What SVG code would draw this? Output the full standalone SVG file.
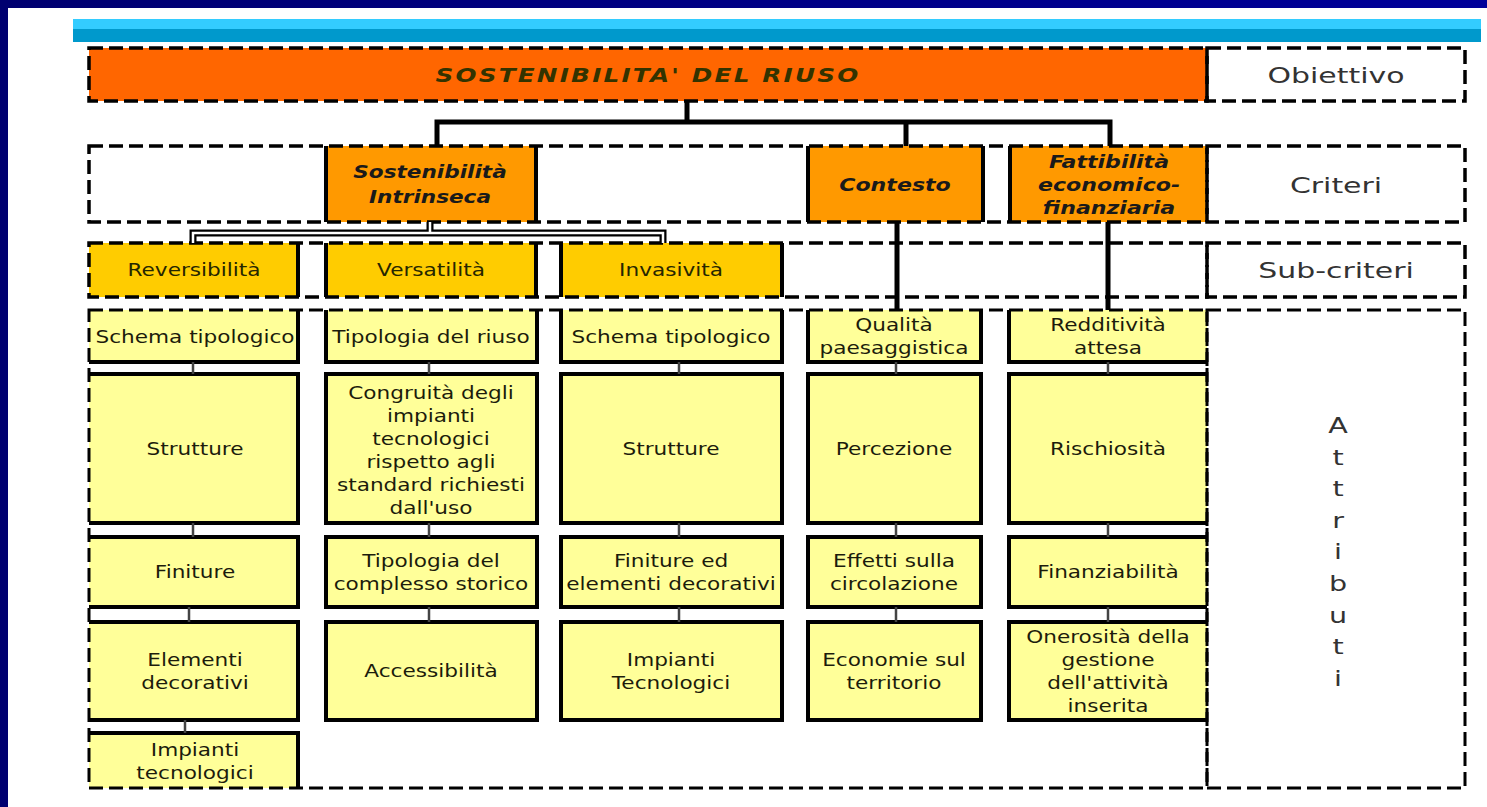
<svg xmlns="http://www.w3.org/2000/svg" width="1487" height="807" viewBox="0 0 1487 807">
<style>
  .band{fill:none;stroke:#000;stroke-width:3.5;stroke-dasharray:14 6}
  .bandt{fill:none;stroke:#000;stroke-width:3;stroke-dasharray:14 6}
  .solid{fill:none;stroke:#000;stroke-width:4}
  .att{fill:#FFFF99}
  .sub{fill:#FFCC00}
  .crit{fill:#FF9900}
  .thick{fill:none;stroke:#000;stroke-width:5}
  .thin{fill:none;stroke:#444;stroke-width:2.5}
  text{font-family:"DejaVu Sans","Verdana",sans-serif;text-anchor:middle}
  .ta{font-size:18px;fill:#1c1c0c}
  .ts{font-size:18px;fill:#262600}
  .tc{font-size:17px;font-weight:bold;font-style:italic;fill:#1a1a1a}
  .to{font-size:19px;font-weight:bold;font-style:italic;fill:#333300;letter-spacing:1.7px}
  .tl{font-size:22px;fill:#333333}
</style>
<defs>
  <linearGradient id="navy" x1="0" y1="0" x2="1" y2="0">
    <stop offset="0" stop-color="#000070"/>
    <stop offset="1" stop-color="#000099"/>
  </linearGradient>
</defs>
<rect x="0" y="0" width="1487" height="807" fill="#FFFFFF"/>
<rect x="0" y="0" width="1487" height="8" fill="url(#navy)"/>
<rect x="0" y="0" width="8" height="807" fill="#000070"/>
<rect x="73" y="19" width="1408" height="10" fill="#33CCFF"/>
<rect x="73" y="29" width="1408" height="13" fill="#0099CC"/>

<!-- Objective -->
<g id="n-obj">
  <rect x="89" y="48" width="1118" height="53" fill="#FF6600"/>
  <rect x="89" y="48" width="1118" height="53" class="band" stroke-width="4"/>
  <text class="to" transform="translate(648 0) scale(1.3 1)" y="82">SOSTENIBILITA' DEL RIUSO</text>
</g>
<g id="l-obiettivo">
  <rect x="1207" y="48" width="258" height="53" class="band"/>
  <text class="tl" transform="translate(1336 0) scale(1.36 1)" y="83">Obiettivo</text>
</g>

<!-- Criteria band -->
<g id="n-sost">
  <rect x="326" y="146" width="210" height="76" class="crit"/>
  <path class="solid" d="M326 146V222M536 146V222"/>
  <text class="tc" transform="translate(430 0) scale(1.27 1)" y="178"><tspan x="0">Sostenibilità</tspan><tspan x="0" dy="25">Intrinseca</tspan></text>
</g>
<g id="n-cont">
  <rect x="808" y="146" width="175" height="76" class="crit"/>
  <path class="solid" d="M808 146V222M983 146V222"/>
  <text class="tc" transform="translate(895 0) scale(1.3 1)" y="191">Contesto</text>
</g>
<g id="n-fatt">
  <rect x="1010" y="146" width="197" height="76" class="crit"/>
  <path class="solid" d="M1010 146V222"/>
  <text class="tc" transform="translate(1109 0) scale(1.3 1)" y="168"><tspan x="0">Fattibilità</tspan><tspan x="0" dy="23">economico-</tspan><tspan x="0" dy="23">finanziaria</tspan></text>
</g>
<rect id="band-criteri" x="89" y="146" width="1118" height="76" class="band"/>
<g id="l-criteri">
  <rect x="1207" y="146" width="258" height="76" class="band"/>
  <text class="tl" transform="translate(1336 0) scale(1.36 1)" y="193">Criteri</text>
</g>

<!-- Sub-criteria band -->
<g id="n-rev">
  <rect x="89" y="243" width="209" height="54" class="sub"/>
  <path class="solid" d="M298 243V297"/>
  <text class="ts" transform="translate(194 0) scale(1.2 1)" y="276">Reversibilità</text>
</g>
<g id="n-vers">
  <rect x="326" y="243" width="210" height="54" class="sub"/>
  <path class="solid" d="M326 243V297M536 243V297"/>
  <text class="ts" transform="translate(431 0) scale(1.2 1)" y="276">Versatilità</text>
</g>
<g id="n-inv">
  <rect x="561" y="243" width="221" height="54" class="sub"/>
  <path class="solid" d="M561 243V297M782 243V297"/>
  <text class="ts" transform="translate(671 0) scale(1.2 1)" y="276">Invasività</text>
</g>
<rect id="band-sub" x="89" y="243" width="1118" height="54" class="band"/>
<g id="l-sub">
  <rect x="1207" y="243" width="258" height="54" class="band"/>
  <text class="tl" transform="translate(1336 0) scale(1.36 1)" y="278">Sub-criteri</text>
</g>

<!-- Attributes column 1 -->
<g id="a1-1">
  <rect x="89" y="310" width="209" height="52" class="att"/>
  <path class="solid" d="M89 362H298V310"/>
  <text class="ta" transform="translate(195 0) scale(1.2 1)" y="343">Schema tipologico</text>
</g>
<g id="a1-2">
  <rect x="89" y="374" width="209" height="149" class="att"/>
  <path class="solid" d="M89 374H298V523H89"/>
  <text class="ta" transform="translate(195 0) scale(1.2 1)" y="455">Strutture</text>
</g>
<g id="a1-3">
  <rect x="89" y="537" width="209" height="70" class="att"/>
  <path class="solid" d="M89 537H298V607H89"/>
  <text class="ta" transform="translate(195 0) scale(1.2 1)" y="578">Finiture</text>
</g>
<g id="a1-4">
  <rect x="89" y="622" width="209" height="98" class="att"/>
  <path class="solid" d="M89 622H298V720H89"/>
  <text class="ta" transform="translate(195 0) scale(1.2 1)" y="666"><tspan x="0">Elementi</tspan><tspan x="0" dy="23">decorativi</tspan></text>
</g>
<g id="a1-5">
  <rect x="89" y="733" width="209" height="55" class="att"/>
  <path class="solid" d="M89 733H298V788"/>
  <text class="ta" transform="translate(195 0) scale(1.2 1)" y="756"><tspan x="0">Impianti</tspan><tspan x="0" dy="23">tecnologici</tspan></text>
</g>

<!-- Attributes column 2 -->
<g id="a2-1">
  <rect x="326" y="310" width="211" height="52" class="att"/>
  <path class="solid" d="M326 310V362H537V310"/>
  <text class="ta" transform="translate(431 0) scale(1.2 1)" y="343">Tipologia del riuso</text>
</g>
<g id="a2-2">
  <rect x="326" y="374" width="211" height="149" class="att solid" style="fill:#FFFF99"/>
  <text class="ta" transform="translate(431 0) scale(1.2 1)" y="399"><tspan x="0">Congruità degli</tspan><tspan x="0" dy="23">impianti</tspan><tspan x="0" dy="23">tecnologici</tspan><tspan x="0" dy="23">rispetto agli</tspan><tspan x="0" dy="23">standard richiesti</tspan><tspan x="0" dy="23">dall'uso</tspan></text>
</g>
<g id="a2-3">
  <rect x="326" y="537" width="211" height="70" class="att solid" style="fill:#FFFF99"/>
  <text class="ta" transform="translate(431 0) scale(1.2 1)" y="567"><tspan x="0">Tipologia del</tspan><tspan x="0" dy="23">complesso storico</tspan></text>
</g>
<g id="a2-4">
  <rect x="326" y="622" width="211" height="98" class="att solid" style="fill:#FFFF99"/>
  <text class="ta" transform="translate(431 0) scale(1.2 1)" y="677">Accessibilità</text>
</g>

<!-- Attributes column 3 -->
<g id="a3-1">
  <rect x="561" y="310" width="221" height="52" class="att"/>
  <path class="solid" d="M561 310V362H782V310"/>
  <text class="ta" transform="translate(671 0) scale(1.2 1)" y="343">Schema tipologico</text>
</g>
<g id="a3-2">
  <rect x="561" y="374" width="221" height="149" class="att solid" style="fill:#FFFF99"/>
  <text class="ta" transform="translate(671 0) scale(1.2 1)" y="455">Strutture</text>
</g>
<g id="a3-3">
  <rect x="561" y="537" width="221" height="70" class="att solid" style="fill:#FFFF99"/>
  <text class="ta" transform="translate(671 0) scale(1.2 1)" y="567"><tspan x="0">Finiture ed</tspan><tspan x="0" dy="23">elementi decorativi</tspan></text>
</g>
<g id="a3-4">
  <rect x="561" y="622" width="221" height="98" class="att solid" style="fill:#FFFF99"/>
  <text class="ta" transform="translate(671 0) scale(1.2 1)" y="666"><tspan x="0">Impianti</tspan><tspan x="0" dy="23">Tecnologici</tspan></text>
</g>

<!-- Attributes column 4 -->
<g id="a4-1">
  <rect x="808" y="310" width="173" height="52" class="att"/>
  <path class="solid" d="M808 310V362H981V310"/>
  <text class="ta" transform="translate(894 0) scale(1.2 1)" y="331"><tspan x="0">Qualità</tspan><tspan x="0" dy="23">paesaggistica</tspan></text>
</g>
<g id="a4-2">
  <rect x="808" y="374" width="173" height="149" class="att solid" style="fill:#FFFF99"/>
  <text class="ta" transform="translate(894 0) scale(1.2 1)" y="455">Percezione</text>
</g>
<g id="a4-3">
  <rect x="808" y="537" width="173" height="70" class="att solid" style="fill:#FFFF99"/>
  <text class="ta" transform="translate(894 0) scale(1.2 1)" y="567"><tspan x="0">Effetti sulla</tspan><tspan x="0" dy="23">circolazione</tspan></text>
</g>
<g id="a4-4">
  <rect x="808" y="622" width="173" height="98" class="att solid" style="fill:#FFFF99"/>
  <text class="ta" transform="translate(894 0) scale(1.2 1)" y="666"><tspan x="0">Economie sul</tspan><tspan x="0" dy="23">territorio</tspan></text>
</g>

<!-- Attributes column 5 -->
<g id="a5-1">
  <rect x="1009" y="310" width="198" height="52" class="att"/>
  <path class="solid" d="M1009 310V362H1207"/>
  <text class="ta" transform="translate(1108 0) scale(1.2 1)" y="331"><tspan x="0">Redditività</tspan><tspan x="0" dy="23">attesa</tspan></text>
</g>
<g id="a5-2">
  <rect x="1009" y="374" width="198" height="149" class="att"/>
  <path class="solid" d="M1207 374H1009V523H1207"/>
  <text class="ta" transform="translate(1108 0) scale(1.2 1)" y="455">Rischiosità</text>
</g>
<g id="a5-3">
  <rect x="1009" y="537" width="198" height="70" class="att"/>
  <path class="solid" d="M1207 537H1009V607H1207"/>
  <text class="ta" transform="translate(1108 0) scale(1.2 1)" y="578">Finanziabilità</text>
</g>
<g id="a5-4">
  <rect x="1009" y="622" width="198" height="98" class="att"/>
  <path class="solid" d="M1207 622H1009V720H1207"/>
  <text class="ta" transform="translate(1108 0) scale(1.2 1)" y="643"><tspan x="0">Onerosità della</tspan><tspan x="0" dy="23">gestione</tspan><tspan x="0" dy="23">dell'attività</tspan><tspan x="0" dy="23">inserita</tspan></text>
</g>

<rect id="band-attr" x="89" y="310" width="1118" height="478" class="bandt"/>
<g id="l-attributi">
  <rect x="1207" y="310" width="258" height="478" class="bandt" stroke-width="2.5"/>
  <text class="tl" transform="translate(1338 0) scale(1.3 1)" y="433"><tspan x="0">A</tspan><tspan x="0" dy="31.6">t</tspan><tspan x="0" dy="31.6">t</tspan><tspan x="0" dy="31.6">r</tspan><tspan x="0" dy="31.6">i</tspan><tspan x="0" dy="31.6">b</tspan><tspan x="0" dy="31.6">u</tspan><tspan x="0" dy="31.6">t</tspan><tspan x="0" dy="31.6">i</tspan></text>
</g>

<!-- Connectors -->
<g id="connectors">
  <path class="thick" d="M687 101V122M437 146V122H1110V146M906 122V146"/>
  <path class="thick" d="M897 222V310M1108 222V310"/>
  <path fill="none" stroke="#000" stroke-width="7" d="M430 222V234M193 243V233H663V243"/>
  <path fill="none" stroke="#FFF" stroke-width="2.5" d="M430 222V233M193 243V233H663V243"/>
  <path class="thin" d="M193 362V374M193 523V537M189 607V622M185 720V733"/>
  <path class="thin" d="M429 362V374M429 523V537M429 607V622"/>
  <path class="thin" d="M679 362V374M679 523V537M679 607V622"/>
  <path class="thin" d="M896 362V374M896 523V537M896 607V622"/>
  <path class="thin" d="M1108 362V374M1108 523V537M1108 607V622"/>
</g>
</svg>
